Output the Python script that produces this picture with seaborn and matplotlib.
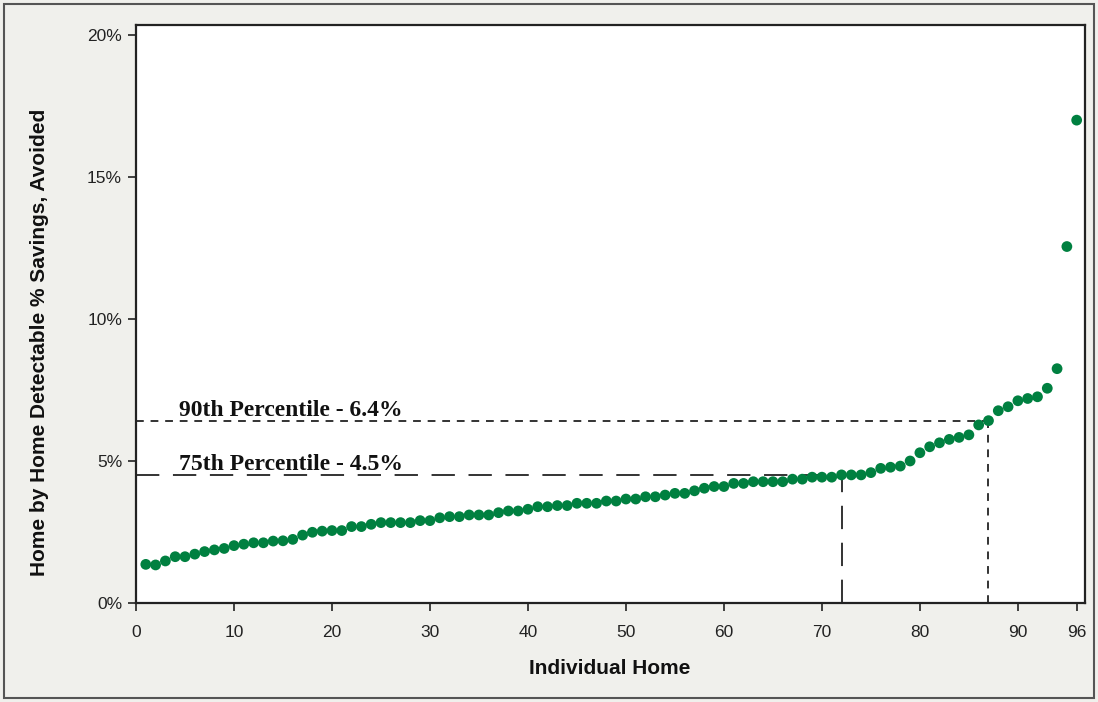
import numpy as np
import pandas as pd
import matplotlib
matplotlib.use("Agg")
import matplotlib.pyplot as plt
import seaborn as sns
from matplotlib.ticker import FuncFormatter
from matplotlib.patches import Rectangle

# ---- data ----
homes = list(range(1, 97))
savings_pct = [
    1.36, 1.34, 1.48, 1.63, 1.63, 1.72, 1.81, 1.87, 1.92, 2.02,
    2.07, 2.12, 2.12, 2.18, 2.19, 2.24, 2.39, 2.49, 2.53, 2.55,
    2.55, 2.69, 2.69, 2.77, 2.83, 2.83, 2.83, 2.83, 2.90, 2.90,
    3.00, 3.04, 3.04, 3.10, 3.10, 3.10, 3.18, 3.24, 3.24, 3.30,
    3.39, 3.39, 3.43, 3.43, 3.51, 3.51, 3.51, 3.59, 3.59, 3.66,
    3.66, 3.74, 3.74, 3.80, 3.86, 3.86, 3.95, 4.04, 4.10, 4.10,
    4.21, 4.21, 4.27, 4.27, 4.27, 4.27, 4.36, 4.36, 4.43, 4.43,
    4.43, 4.51, 4.51, 4.51, 4.59, 4.74, 4.78, 4.82, 5.00, 5.29,
    5.50, 5.64, 5.76, 5.83, 5.92, 6.27, 6.42, 6.77, 6.91, 7.12,
    7.20, 7.26, 7.56, 8.25, 12.55, 17.00,
]
x_ticks = [0, 10, 20, 30, 40, 50, 60, 70, 80, 90, 96]
y_ticks = [0, 5, 10, 15, 20]
p75_home, p75_value, p75_label = 72, 4.5, "75th Percentile - 4.5%"
p90_home, p90_value, p90_label = 87, 6.4, "90th Percentile - 6.4%"

df = pd.DataFrame({"home": homes, "savings": savings_pct})

sns.set_theme(style="ticks")
plt.rcParams["font.family"] = ["Liberation Sans", "DejaVu Sans"]

fig = plt.figure(figsize=(10.98, 7.02), dpi=100)
fig.patch.set_facecolor("#f0f0ec")
ax = fig.add_axes([136 / 1098, 1 - 603 / 702, (1085 - 136) / 1098, (603 - 25) / 702])
ax.set_facecolor("white")

line_col = "#333333"
# percentile reference lines
ax.plot([0, p90_home], [p90_value, p90_value], color=line_col, lw=1.4,
        linestyle=(0, (4, 3.5)), zorder=2)
ax.plot([p90_home, p90_home], [0, p90_value], color=line_col, lw=1.4,
        linestyle=(0, (4, 3.5)), zorder=2)
ax.plot([0, p75_home], [p75_value, p75_value], color=line_col, lw=1.4,
        linestyle=(0, (12, 7)), zorder=2)
ax.plot([p75_home, p75_home], [0, p75_value], color=line_col, lw=1.4,
        linestyle=(0, (12, 7)), zorder=2)

sns.scatterplot(data=df, x="home", y="savings", ax=ax, color="#008040",
                s=60, edgecolor="none", zorder=3, legend=False)

serif = ["Liberation Serif", "DejaVu Serif"]
ax.text(4.4, p90_value + 0.0, p90_label, fontsize=17, fontweight="bold",
        family=serif, color="#111111", va="bottom", ha="left", zorder=4)
ax.text(4.4, p75_value + 0.0, p75_label, fontsize=17, fontweight="bold",
        family=serif, color="#111111", va="bottom", ha="left", zorder=4)

ax.set_xlim(0, 96.85)
ax.set_ylim(0, 20.35)
ax.set_xticks(x_ticks)
ax.set_yticks(y_ticks)
ax.yaxis.set_major_formatter(FuncFormatter(lambda v, p: f"{v:.0f}%"))
ax.tick_params(axis="both", direction="out", length=6, width=1.2,
               color="#222222", labelsize=12.5, labelcolor="#222222")
ax.tick_params(axis="x", pad=10)
ax.tick_params(axis="y", pad=4)

for s in ax.spines.values():
    s.set_visible(True)
    s.set_color("#222222")
    s.set_linewidth(1.6)

ax.set_xlabel("Individual Home", fontsize=15, fontweight="bold",
              color="#111111")
ax.xaxis.set_label_coords((610 - 136) / 949, -(659 - 603) / 578)
ax.set_ylabel("Home by Home Detectable % Savings, Avoided", fontsize=15,
              fontweight="bold", color="#111111")
ax.yaxis.set_label_coords(-(136 - 49) / 949, (603 - 342) / 578)

fig.patches.append(Rectangle((4 / 1098, 4 / 702), 1090 / 1098, 694 / 702,
                             transform=fig.transFigure, fill=False,
                             edgecolor="#555555", linewidth=1.5))

fig.savefig("out.png", dpi=100, facecolor=fig.get_facecolor())
